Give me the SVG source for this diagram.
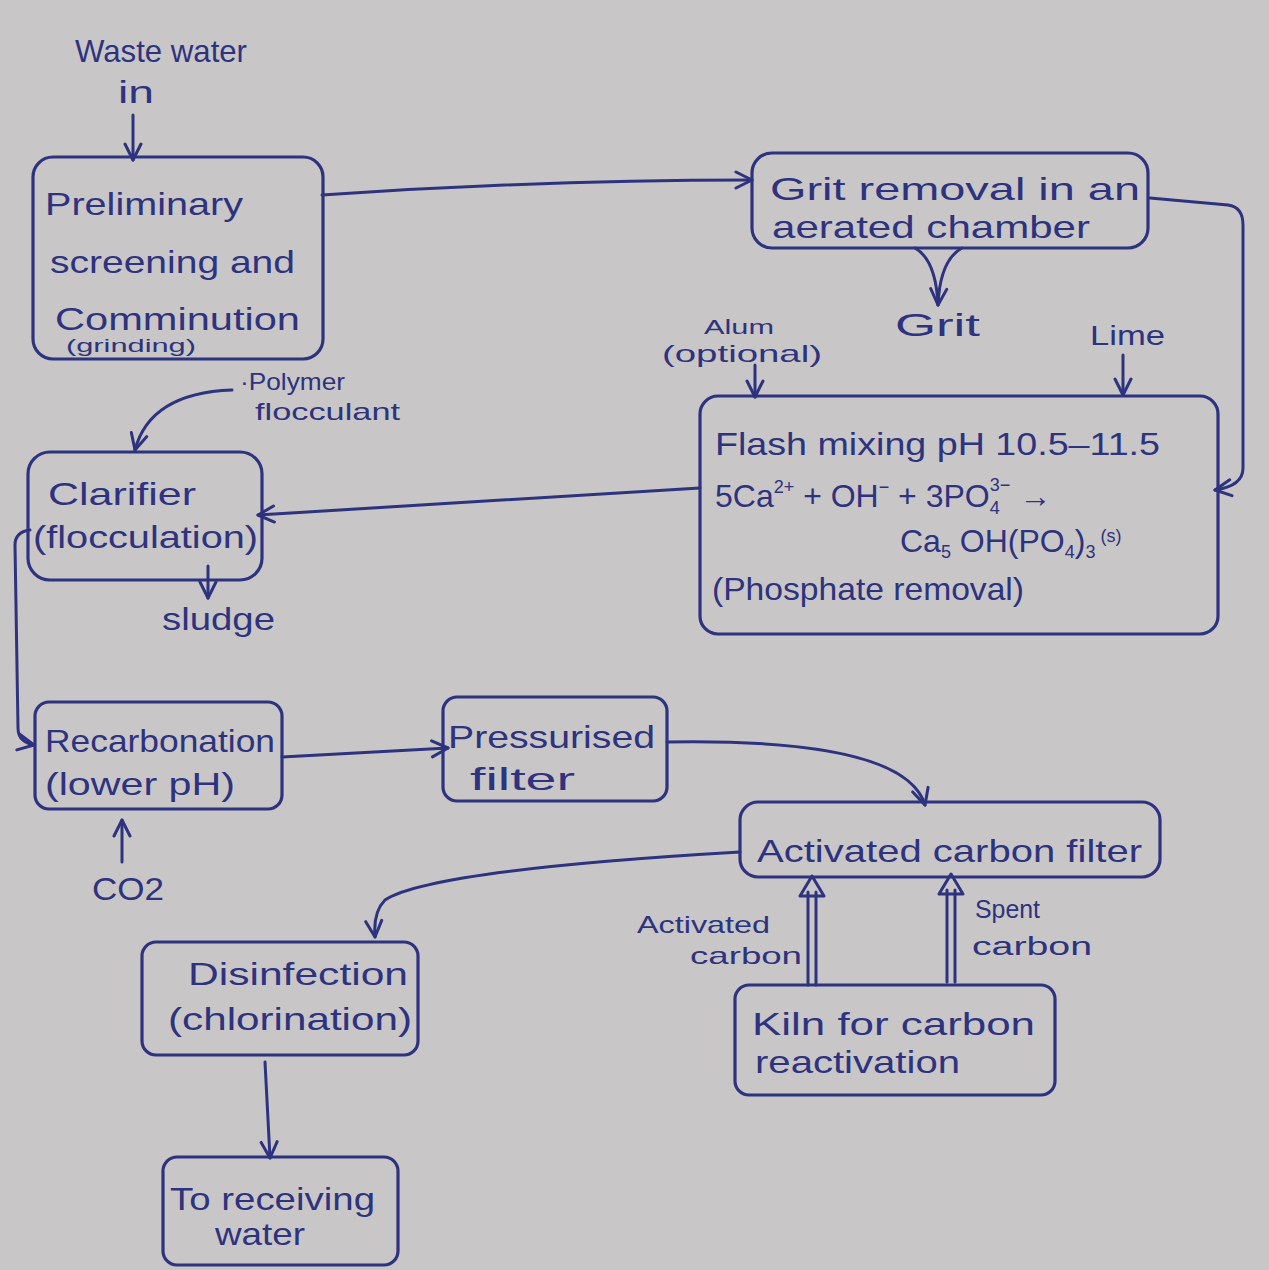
<svg xmlns="http://www.w3.org/2000/svg" width="1269" height="1270" viewBox="0 0 1269 1270">
<defs>
<style>
.bg{fill:#c9c6c7}
.box{fill:none;stroke:#2d337e;stroke-width:3.2;stroke-linejoin:round}
.ln{fill:none;stroke:#2d337e;stroke-width:3;stroke-linecap:round;stroke-linejoin:round}
.arr{marker-end:url(#ah)}
text{font-family:"Liberation Sans","DejaVu Sans",sans-serif;fill:#2d337e}
.t{font-size:32px}
.s{font-size:24px}
.xs{font-size:18px}
</style>
<marker id="ah" viewBox="0 0 20 20" refX="18" refY="10" markerWidth="20" markerHeight="20" markerUnits="userSpaceOnUse" orient="auto">
<path d="M2,2 L18,10 L2,18" fill="none" stroke="#2d337e" stroke-width="3" stroke-linecap="round" stroke-linejoin="round"/>
</marker>
</defs>
<rect class="bg" x="0" y="0" width="1269" height="1270"/>

<g id="connectors">
<path class="ln arr" d="M133,115 L133,160"/>
<path class="ln arr" d="M322,195 Q540,180 752,180"/>
<path class="ln" d="M915,248 Q936,260 938,305"/>
<path class="ln arr" d="M962,248 Q940,260 938,305"/>
<path class="ln arr" d="M1150,198 L1228,205 Q1243,207 1243,225 L1243,468 Q1243,486 1215,490"/>
<path class="ln arr" d="M755,365 L755,397"/>
<path class="ln arr" d="M1123,355 L1123,395"/>
<path class="ln arr" d="M700,488 L258,515"/>
<path class="ln arr" d="M232,390 Q150,393 135,450"/>
<path class="ln arr" d="M208,566 L208,598"/>
<path class="ln arr" d="M30,530 Q15,532 15,545 L18,728 Q18,742 34,745"/>
<path class="ln arr" d="M122,862 L122,820"/>
<path class="ln arr" d="M282,757 L448,748"/>
<path class="ln arr" d="M667,742 Q905,738 925,805"/>
<path class="ln arr" d="M740,852 Q430,870 385,900 Q373,912 375,937"/>
<path class="ln arr" d="M265,1062 L270,1158"/>
<path class="ln" d="M808,985 L808,892 M816,985 L816,892 M800,896 L812,876 L824,896 Z"/>
<path class="ln" d="M947,982 L947,890 M955,982 L955,890 M939,894 L951,874 L963,894 Z"/>
</g>

<g id="waste-in">
<text class="t" x="75" y="62" textLength="172" lengthAdjust="spacingAndGlyphs">Waste water</text>
<text class="t" x="118" y="103" textLength="36" lengthAdjust="spacingAndGlyphs">in</text>
</g>

<g id="preliminary">
<rect class="box" x="33" y="157" width="290" height="202" rx="20"/>
<text class="t" x="45" y="215" textLength="198" lengthAdjust="spacingAndGlyphs">Preliminary</text>
<text class="t" x="50" y="273" textLength="245" lengthAdjust="spacingAndGlyphs">screening and</text>
<text class="t" x="55" y="330" textLength="245" lengthAdjust="spacingAndGlyphs">Comminution</text>
<text class="xs" x="66" y="352" textLength="130" lengthAdjust="spacingAndGlyphs">(grinding)</text>
</g>

<g id="grit-removal">
<rect class="box" x="752" y="153" width="396" height="95" rx="20"/>
<text class="t" x="770" y="200" textLength="370" lengthAdjust="spacingAndGlyphs">Grit removal in an</text>
<text class="t" x="772" y="238" textLength="318" lengthAdjust="spacingAndGlyphs">aerated chamber</text>
</g>

<g id="grit">
<text class="t" x="895" y="336" textLength="85" lengthAdjust="spacingAndGlyphs">Grit</text>
</g>

<g id="alum">
<text class="xs" x="704" y="334" textLength="70" lengthAdjust="spacingAndGlyphs" style="font-size:20px">Alum</text>
<text class="s" x="662" y="362" textLength="160" lengthAdjust="spacingAndGlyphs">(optional)</text>
</g>

<g id="lime">
<text class="s" x="1090" y="345" textLength="75" lengthAdjust="spacingAndGlyphs" style="font-size:28px">Lime</text>
</g>

<g id="flash-mixing">
<rect class="box" x="700" y="396" width="518" height="238" rx="18"/>
<text class="t" x="715" y="455" textLength="445" lengthAdjust="spacingAndGlyphs">Flash mixing pH 10.5–11.5</text>
<text class="t" x="715" y="507">5Ca<tspan dy="-14" class="xs">2+</tspan><tspan dy="14"> + OH</tspan><tspan dy="-14" class="xs">−</tspan><tspan dy="14"> + 3PO</tspan><tspan dy="7" class="xs">4</tspan><tspan dy="-23" class="xs" dx="-10">3−</tspan><tspan dy="16"> →</tspan></text>
<text class="t" x="900" y="552">Ca<tspan dy="6" class="xs">5</tspan><tspan dy="-6"> OH(PO</tspan><tspan dy="6" class="xs">4</tspan><tspan dy="-6">)</tspan><tspan dy="6" class="xs">3</tspan><tspan dy="-16" class="xs"> (s)</tspan></text>
<text class="t" x="712" y="600" textLength="312" lengthAdjust="spacingAndGlyphs">(Phosphate removal)</text>
</g>

<g id="polymer">
<text class="s" x="240" y="390" textLength="105" lengthAdjust="spacingAndGlyphs">·Polymer</text>
<text class="s" x="255" y="420" textLength="145" lengthAdjust="spacingAndGlyphs">flocculant</text>
</g>

<g id="clarifier">
<rect class="box" x="28" y="452" width="234" height="128" rx="22"/>
<text class="t" x="48" y="505" textLength="148" lengthAdjust="spacingAndGlyphs">Clarifier</text>
<text class="t" x="33" y="548" textLength="225" lengthAdjust="spacingAndGlyphs">(flocculation)</text>
</g>

<g id="sludge">
<text class="t" x="162" y="630" textLength="113" lengthAdjust="spacingAndGlyphs">sludge</text>
</g>

<g id="recarbonation">
<rect class="box" x="35" y="702" width="247" height="107" rx="14"/>
<text class="t" x="45" y="752" textLength="230" lengthAdjust="spacingAndGlyphs">Recarbonation</text>
<text class="t" x="45" y="795" textLength="190" lengthAdjust="spacingAndGlyphs">(lower pH)</text>
</g>

<g id="co2">
<text class="t" x="92" y="900" textLength="72" lengthAdjust="spacingAndGlyphs">CO2</text>
</g>

<g id="pressurised-filter">
<rect class="box" x="443" y="697" width="224" height="104" rx="14"/>
<text class="t" x="448" y="748" textLength="207" lengthAdjust="spacingAndGlyphs">Pressurised</text>
<text class="t" x="470" y="790" textLength="105" lengthAdjust="spacingAndGlyphs">filter</text>
</g>

<g id="activated-carbon-filter">
<rect class="box" x="740" y="802" width="420" height="75" rx="18"/>
<text class="t" x="757" y="862" textLength="385" lengthAdjust="spacingAndGlyphs">Activated carbon filter</text>
</g>

<g id="activated-carbon-label">
<text class="s" x="637" y="933" textLength="133" lengthAdjust="spacingAndGlyphs">Activated</text>
<text class="s" x="690" y="964" textLength="112" lengthAdjust="spacingAndGlyphs">carbon</text>
</g>

<g id="spent-carbon-label">
<text class="s" x="975" y="918" textLength="65" lengthAdjust="spacingAndGlyphs" style="font-size:26px">Spent</text>
<text class="s" x="972" y="955" textLength="120" lengthAdjust="spacingAndGlyphs" style="font-size:26px">carbon</text>
</g>

<g id="kiln">
<rect class="box" x="735" y="985" width="320" height="110" rx="14"/>
<text class="t" x="752" y="1035" textLength="283" lengthAdjust="spacingAndGlyphs">Kiln for carbon</text>
<text class="t" x="755" y="1073" textLength="205" lengthAdjust="spacingAndGlyphs">reactivation</text>
</g>

<g id="disinfection">
<rect class="box" x="142" y="942" width="276" height="113" rx="14"/>
<text class="t" x="188" y="985" textLength="220" lengthAdjust="spacingAndGlyphs">Disinfection</text>
<text class="t" x="168" y="1030" textLength="244" lengthAdjust="spacingAndGlyphs">(chlorination)</text>
</g>

<g id="receiving-water">
<rect class="box" x="163" y="1157" width="235" height="108" rx="14"/>
<text class="t" x="170" y="1210" textLength="205" lengthAdjust="spacingAndGlyphs">To receiving</text>
<text class="t" x="215" y="1245" textLength="90" lengthAdjust="spacingAndGlyphs">water</text>
</g>
</svg>
